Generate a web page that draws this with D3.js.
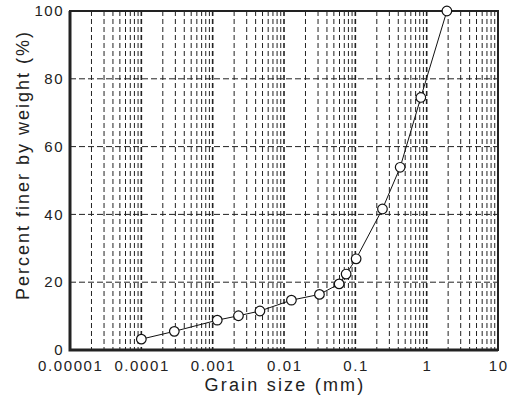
<!DOCTYPE html>
<meta charset="utf-8">
<style>
body { margin: 0; background: #fff; }
text { font-family: "Liberation Sans", Arial, sans-serif; fill: #222; }
</style>
<svg width="510" height="398"></svg>
<script src="https://cdn.jsdelivr.net/npm/d3@7"></script>
<script>
// grain size distribution
var grainSize = [0.0001, 0.00029, 0.00116, 0.0023, 0.0046, 0.0127, 0.0314, 0.0593, 0.0743, 0.1026, 0.24, 0.425, 0.828, 1.92];
var percentFiner = [3.2, 5.5, 8.8, 10.1, 11.5, 14.7, 16.4, 19.5, 22.4, 26.9, 41.6, 53.9, 74.5, 100];
var xTicks = [0.00001, 0.0001, 0.001, 0.01, 0.1, 1, 10];
var xTickLabels = ["0.00001", "0.0001", "0.001", "0.01", "0.1", "1", "10"];
var yTicks = [0, 20, 40, 60, 80, 100];

var svg = d3.select("svg");
var pL = 70, pR = 498, pT = 11, pB = 350;

var x = d3.scaleLog().domain([1e-5, 10]).range([pL, pR]);
var y = d3.scaleLinear().domain([0, 100]).range([pB, pT]);

// minor + major vertical grid
var minor = [];
for (var e = -5; e < 1; e++) {
  for (var m = 1; m <= 9; m++) minor.push(m * Math.pow(10, e));
}

svg.append("g").selectAll("line")
  .data(minor.filter(function(d) { return d > 1e-5 * 1.01; }))
  .enter().append("line")
  .attr("x1", function(d) { return x(d); })
  .attr("x2", function(d) { return x(d); })
  .attr("y1", pT).attr("y2", pB)
  .attr("stroke", "#222")
  .attr("stroke-width", function(d) { return Math.abs(Math.log10(d) - Math.round(Math.log10(d))) < 1e-6 ? 1.6 : 1; })
  .attr("stroke-dasharray", "5,3");

svg.append("g").selectAll("line")
  .data(yTicks.slice(1, -1))
  .enter().append("line")
  .attr("x1", pL).attr("x2", pR)
  .attr("y1", function(d) { return y(d); })
  .attr("y2", function(d) { return y(d); })
  .attr("stroke", "#222")
  .attr("stroke-width", 1)
  .attr("stroke-dasharray", "6,3");

// frame
svg.append("rect")
  .attr("x", pL).attr("y", pT)
  .attr("width", pR - pL).attr("height", pB - pT)
  .attr("fill", "none").attr("stroke", "#222").attr("stroke-width", 2);
svg.append("path")
  .attr("d", "M" + pL + "," + pT + "V" + pB + "H" + pR)
  .attr("fill", "none").attr("stroke", "#222").attr("stroke-width", 3);

// tick labels
svg.append("g").selectAll("text")
  .data(yTicks).enter().append("text")
  .attr("x", pL - 6)
  .attr("y", function(d) { return y(d); })
  .attr("dy", "0.35em")
  .attr("text-anchor", "end")
  .style("font-size", "15px")
  .style("letter-spacing", "1.5px")
  .text(function(d) { return d; });

svg.append("g").selectAll("text")
  .data(xTicks).enter().append("text")
  .attr("x", function(d) { return x(d) + 0.8; })
  .attr("y", 371)
  .attr("text-anchor", "middle")
  .style("font-size", "15px")
  .style("letter-spacing", "1.6px")
  .text(function(d, i) { return xTickLabels[i]; });

// axis titles
svg.append("text")
  .attr("x", 285).attr("y", 391)
  .attr("text-anchor", "middle")
  .style("font-size", "18px")
  .style("letter-spacing", "2.2px")
  .text("Grain size (mm)");

svg.append("text")
  .attr("transform", "translate(29,165) rotate(-90)")
  .attr("text-anchor", "middle")
  .style("font-size", "18px")
  .style("letter-spacing", "2px")
  .text("Percent finer by weight (%)");

// curve
var pts = grainSize.map(function(d, i) { return [d, percentFiner[i]]; });
svg.append("path")
  .datum(pts)
  .attr("fill", "none")
  .attr("stroke", "#111")
  .attr("stroke-width", 1)
  .attr("d", d3.line().x(function(d) { return x(d[0]); }).y(function(d) { return y(d[1]); }));

svg.append("g").selectAll("circle")
  .data(pts).enter().append("circle")
  .attr("cx", function(d) { return x(d[0]); })
  .attr("cy", function(d) { return y(d[1]); })
  .attr("r", 4.8)
  .attr("fill", "#fff")
  .attr("stroke", "#111")
  .attr("stroke-width", 1.2);
</script>
